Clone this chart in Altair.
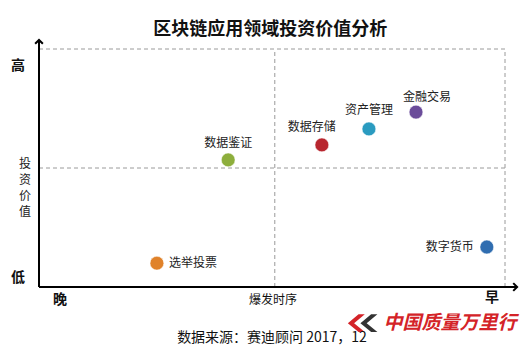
import altair as alt
import pandas as pd

# ---- data ----
names = ["选举投票", "数据鉴证", "数据存储", "资产管理", "金融交易", "数字货币"]
timing = [2.53, 4.06, 6.07, 7.08, 8.09, 9.61]       # 爆发时序 (晚 -> 早)
invest = [1.0, 5.34, 5.97, 6.64, 7.35, 1.68]        # 投资价值 (低 -> 高)
colors = ["#E0822A", "#8DAE3C", "#B8262F", "#2A9BC0", "#6B4C9A", "#2F6DB0"]

# label placement (styles, separate from data)
label_align = ["left", "center", "center", "center", "center", "right"]
label_dx = [12, 0, -10, 0, 11, -13]
label_dy = [0, -17, -18, -19, -15, 0]

FONT = "Noto Sans CJK SC"

pts = pd.DataFrame({"name": names, "t": timing, "v": invest, "c": colors})

xs = alt.Scale(domain=[0, 10], nice=False, zero=False)
ys = alt.Scale(domain=[0, 10], nice=False, zero=False)

def X(f="t"):
    return alt.X(f, type="quantitative", scale=xs, axis=None)

def Y(f="v"):
    return alt.Y(f, type="quantitative", scale=ys, axis=None)

# dashed quadrant grid / frame
hlines = pd.DataFrame({"x": [0, 0], "x2": [10, 10], "y": [10, 5]})
vlines = pd.DataFrame({"y": [0, 0], "y2": [10, 10], "x": [10, 5.06]})
dash_h = alt.Chart(hlines).mark_rule(color="#9a9a9a", strokeDash=[4, 3], strokeWidth=1).encode(
    x=X("x"), x2="x2", y=Y("y"))
dash_v = alt.Chart(vlines).mark_rule(color="#9a9a9a", strokeDash=[4, 3], strokeWidth=1).encode(
    x=X("x"), y=Y("y"), y2="y2")

# axes with arrows
axis_x = alt.Chart(pd.DataFrame({"x": [0], "x2": [10.26], "y": [0]})).mark_rule(
    color="black", strokeWidth=2).encode(x=X("x"), x2="x2", y=Y("y"))
axis_y = alt.Chart(pd.DataFrame({"x": [0], "y": [0], "y2": [10.38]})).mark_rule(
    color="black", strokeWidth=2).encode(x=X("x"), y=Y("y"), y2="y2")
arrow_up = alt.Chart(pd.DataFrame({"x": [0], "y": [10.38]})).mark_point(
    shape="M-1,1L0,0L1,1", size=60, filled=False, color="black", strokeWidth=2,
    opacity=1).encode(x=X("x"), y=Y("y"))
arrow_right = alt.Chart(pd.DataFrame({"x": [10.26], "y": [0]})).mark_point(
    shape="M-1,-1L0,0L-1,1", size=60, filled=False, color="black", strokeWidth=2,
    opacity=1).encode(x=X("x"), y=Y("y"))

# points
points = alt.Chart(pts).mark_circle(size=190, opacity=1, stroke="white", strokeWidth=0.5).encode(
    x=X(), y=Y(), color=alt.Color("c:N", scale=None))

labels = []
for i in range(len(names)):
    labels.append(
        alt.Chart(pts.iloc[[i]]).mark_text(
            font=FONT, fontSize=12, color="#222", align=label_align[i],
            baseline="middle", dx=label_dx[i], dy=label_dy[i]).encode(
            x=X(), y=Y(), text="name:N"))

# annotation texts (positions in data units)
def note(txt, x, y, size=12, weight="normal", color="#111", align="center", style="normal"):
    return alt.Chart(pd.DataFrame({"x": [x], "y": [y], "t": [txt]})).mark_text(
        font=FONT, fontSize=size, fontWeight=weight, color=color, align=align,
        fontStyle=style, baseline="middle").encode(x=X("x"), y=Y("y"), text="t:N")

notes = [
    note("区块链应用领域投资价值分析", 4.96, 10.8, size=18, weight="bold"),
    note("高", -0.45, 9.29, size=14, weight="bold"),
    note("低", -0.45, 0.38, size=14, weight="bold"),
    note("晚", 0.45, -0.55, size=14, weight="bold"),
    note("早", 9.72, -0.48, size=14, weight="bold"),
    note("爆发时序", 5.02, -0.55, size=12),
    note("数据来源：赛迪顾问 2017，12", 5.0, -2.14, size=14),
    note("中国质量万里行", 8.82, -1.52, size=19, weight="bold", color="#D42328", style="italic"),
    note("投", -0.30, 5.15, size=12, color="#222"),
    note("资", -0.30, 4.48, size=12, color="#222"),
    note("价", -0.30, 3.81, size=12, color="#222"),
    note("值", -0.30, 3.14, size=12, color="#222"),
]

# watermark logo chevrons
chev = "M1,-1L-0.2,0L1,1L0.3,1L-0.9,0L0.3,-1Z"
logo_red = alt.Chart(pd.DataFrame({"x": [6.80], "y": [-1.52]})).mark_point(
    shape=chev, size=320, filled=True, color="#D42328", opacity=1).encode(x=X("x"), y=Y("y"))
logo_dark = alt.Chart(pd.DataFrame({"x": [7.07], "y": [-1.52]})).mark_point(
    shape=chev, size=320, filled=True, color="#333333", opacity=1).encode(x=X("x"), y=Y("y"))

chart = alt.layer(dash_h, dash_v, axis_x, axis_y, arrow_up, arrow_right, points,
                  *labels, logo_red, logo_dark, *notes).properties(
    width=466, height=238,
    padding={"left": 39, "top": 49, "right": 23, "bottom": 64},
    autosize=alt.AutoSizeParams(type="none"),
    background="white",
).configure_view(stroke=None)

chart.save("out.html", embed_options={"renderer": "svg", "actions": False})
